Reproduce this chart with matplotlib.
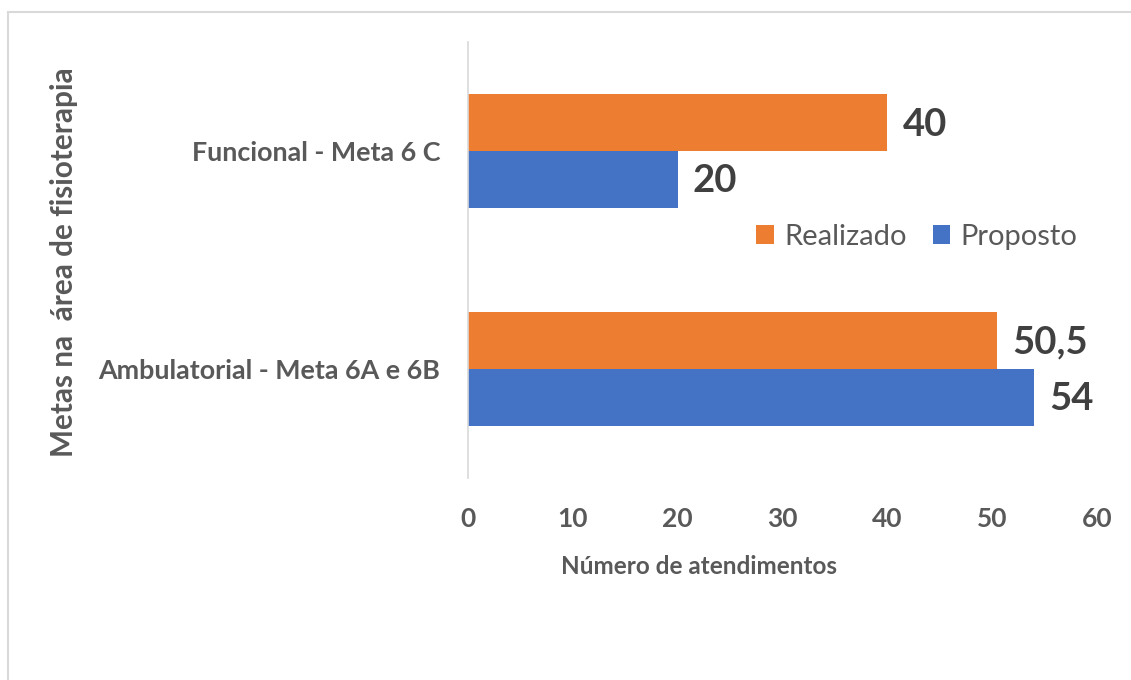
import matplotlib.pyplot as plt
from matplotlib.patches import Rectangle

# Data
categories = ['Ambulatorial - Meta 6A e 6B', 'Funcional - Meta 6 C']
realizado = [50.5, 40]
proposto = [54, 20]
x_ticks = [0, 10, 20, 30, 40, 50, 60]

gray = '#595959'
dark = '#404040'
orange = '#ED7D31'
blue = '#4472C4'

plt.rcParams['font.family'] = ['Lato', 'DejaVu Sans']

fig = plt.figure(figsize=(11.31, 6.8), dpi=100)
fig.patches.append(Rectangle((8 / 1131, -0.1), 1.2, (680 - 12) / 680 + 0.1,
                             transform=fig.transFigure, fill=False,
                             edgecolor='#d9d9d9', linewidth=1.5))

ax = fig.add_axes([468 / 1131, 202 / 680, 629 / 1131, 436 / 680])

pos = list(range(len(categories)))
h = 0.26
ax.barh([p + h / 2 for p in pos], realizado, height=h, color=orange, label='Realizado')
ax.barh([p - h / 2 for p in pos], proposto, height=h, color=blue, label='Proposto')

def fmt(v):
    s = f'{v:g}'
    return s.replace('.', ',')

for p, v in zip(pos, realizado):
    ax.annotate(fmt(v), (v, p + h / 2), xytext=(11, -1.5), textcoords='offset points',
                va='center', ha='left', fontsize=27.5, fontweight='bold', color=dark)
for p, v in zip(pos, proposto):
    ax.annotate(fmt(v), (v, p - h / 2), xytext=(11, -1.5), textcoords='offset points',
                va='center', ha='left', fontsize=27.5, fontweight='bold', color=dark)

ax.set_xlim(0, 60)
ax.set_ylim(-0.5, 1.5)
ax.set_xticks(x_ticks)
ax.set_xticklabels([str(t) for t in x_ticks], fontsize=19, fontweight='bold', color=gray)
ax.set_yticks(pos)
ax.set_yticklabels(categories, fontsize=19.4, fontweight='bold', color=gray)
ax.tick_params(axis='x', length=0, pad=21)
ax.tick_params(axis='y', length=0, pad=20)

for s in ['top', 'right', 'bottom']:
    ax.spines[s].set_visible(False)
ax.spines['left'].set_color('#d9d9d9')
ax.spines['left'].set_linewidth(1.2)

fig.text(699 / 1131, 1 - 566 / 680, 'Número de atendimentos', ha='center', va='center',
         fontsize=17.5, fontweight='bold', color=gray)
fig.text(64 / 1131, 1 - 262 / 680, 'Metas na  área de fisioterapia', ha='center', va='center',
         rotation=90, fontsize=21.4, fontweight='bold', color=gray)

fig.legend(loc='center', bbox_to_anchor=(917 / 1131, 1 - 237 / 680), ncol=2, frameon=False,
           fontsize=21, labelcolor=gray, handlelength=0.6, handleheight=0.6,
           handletextpad=0.35, columnspacing=0.9)

fig.savefig('out.png', dpi=100)
